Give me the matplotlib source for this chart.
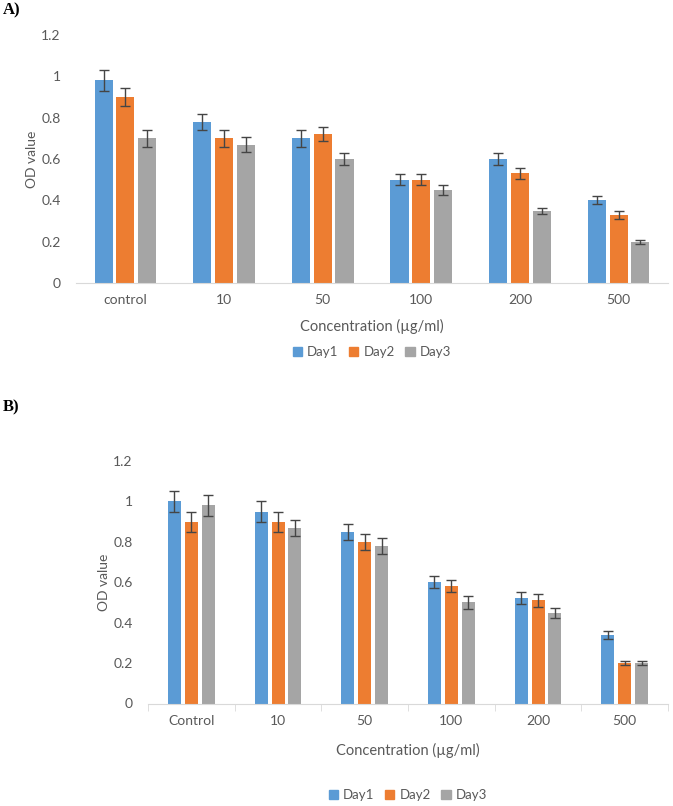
import numpy as np
import matplotlib
matplotlib.use("Agg")
import matplotlib.pyplot as plt
from matplotlib.patches import Patch

plt.rcParams['font.family'] = ['Lato', 'DejaVu Sans']

# Panel A data
cats_a = ['control', '10', '50', '100', '200', '500']
day1_a = [0.98, 0.78, 0.70, 0.50, 0.60, 0.40]
day2_a = [0.90, 0.70, 0.72, 0.50, 0.53, 0.33]
day3_a = [0.70, 0.67, 0.60, 0.45, 0.35, 0.20]
err1_a = [0.05, 0.04, 0.04, 0.025, 0.03, 0.02]
err2_a = [0.045, 0.04, 0.035, 0.025, 0.025, 0.02]
err3_a = [0.04, 0.035, 0.03, 0.025, 0.015, 0.01]

# Panel B data
cats_b = ['Control', '10', '50', '100', '200', '500']
day1_b = [1.00, 0.95, 0.85, 0.60, 0.52, 0.34]
day2_b = [0.90, 0.90, 0.80, 0.58, 0.51, 0.20]
day3_b = [0.98, 0.87, 0.78, 0.50, 0.45, 0.20]
err1_b = [0.05, 0.05, 0.04, 0.03, 0.03, 0.02]
err2_b = [0.05, 0.05, 0.04, 0.03, 0.03, 0.01]
err3_b = [0.05, 0.04, 0.04, 0.03, 0.025, 0.01]

series = ['Day1', 'Day2', 'Day3']
colors = ['#5B9BD5', '#ED7D31', '#A5A5A5']
text_col = '#595959'

W, H = 673, 806
fig = plt.figure(figsize=(W / 100, H / 100), dpi=100)


def panel(rect, cats, vals, errs, width, step, cat_ticks, legend_y, xlabel_y):
    l, t, r, b = rect
    ax = fig.add_axes([l / W, 1 - b / H, (r - l) / W, (b - t) / H])
    x = np.arange(len(cats))
    for i, (v, e) in enumerate(zip(vals, errs)):
        ax.bar(x + (i - 1) * step, v, width, color=colors[i], yerr=e,
               error_kw=dict(ecolor='#454545', elinewidth=1, capsize=3.5, capthick=1),
               zorder=2)
    ax.set_xlim(-0.5, len(cats) - 0.5)
    ax.set_ylim(0, 1.2)
    ax.set_yticks(np.arange(0, 1.21, 0.2))
    ax.set_yticklabels(['0', '0.2', '0.4', '0.6', '0.8', '1', '1.2'])
    ax.set_xticks(x)
    ax.set_xticklabels(cats)
    for s in ['top', 'right', 'left']:
        ax.spines[s].set_visible(False)
    ax.spines['bottom'].set_color('#d9d9d9')
    ax.tick_params(axis='y', length=0, pad=11, labelsize=10, labelcolor=text_col)
    ax.tick_params(axis='x', length=0, pad=8, labelsize=10, labelcolor=text_col)
    if cat_ticks:
        ax.set_xticks(np.arange(-0.5, len(cats) + 0.5, 1), minor=True)
        ax.tick_params(axis='x', which='minor', length=5, color='#d9d9d9', direction='out')
    ax.set_ylabel('OD value', fontsize=10, color=text_col, labelpad=2)
    fig.text((l + r) / 2 / W, 1 - xlabel_y / H, 'Concentration (µg/ml)',
             ha='center', va='center', fontsize=10.5, color=text_col)
    handles = [Patch(color=c, label=s) for c, s in zip(colors, series)]
    fig.legend(handles=handles, loc='center', bbox_to_anchor=((l + r) / 2 / W, 1 - legend_y / H),
               ncol=3, frameon=False, fontsize=9.5, labelcolor=text_col,
               handlelength=0.7, handleheight=0.7, handletextpad=0.4, columnspacing=0.8)
    return ax


panel((76, 35, 668, 283), cats_a, [day1_a, day2_a, day3_a], [err1_a, err2_a, err3_a],
      0.185, 0.22, False, 352, 326)
panel((148, 461, 668, 703.5), cats_b, [day1_b, day2_b, day3_b], [err1_b, err2_b, err3_b],
      0.15, 0.195, True, 795, 750)

fig.text(3 / W, 1 - 10 / H, 'A)', fontsize=12, fontweight='bold',
         family='Liberation Serif', va='center', ha='left')
fig.text(3 / W, 1 - 407 / H, 'B)', fontsize=12, fontweight='bold',
         family='Liberation Serif', va='center', ha='left')

fig.savefig('out.png', dpi=100)
